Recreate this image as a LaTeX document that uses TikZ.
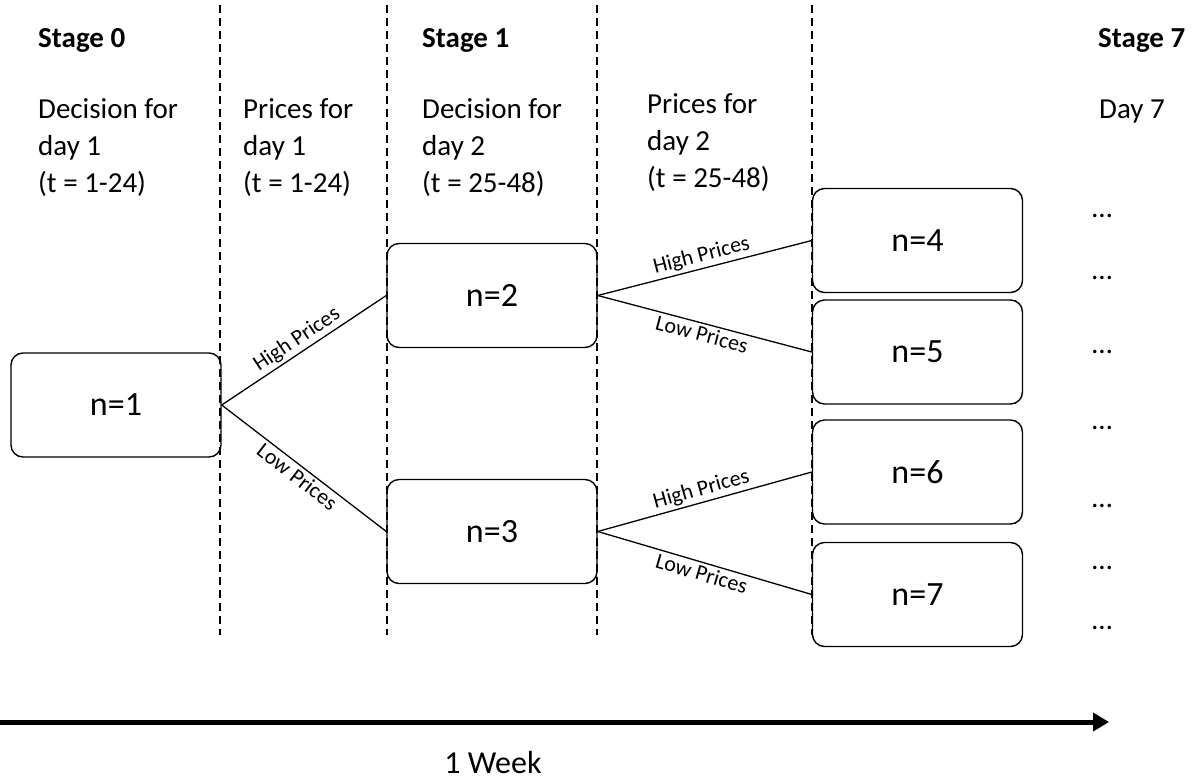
\documentclass[tikz,border=0pt]{standalone}
\usepackage{fontspec}
\setmainfont{Carlito}
\usetikzlibrary{arrows.meta}
\begin{document}
\begin{tikzpicture}[x=1pt,y=-1pt,
  box/.style={draw, line width=1.4pt, rounded corners=12pt, minimum width=210pt, minimum height=104pt, inner sep=0pt, font=\fontsize{34}{40}\selectfont},
  txt/.style={anchor=base west, inner sep=0pt, font=\fontsize{29}{35}\selectfont},
  stage/.style={anchor=base west, inner sep=0pt, font=\fontsize{29}{35}\selectfont\bfseries},
  lbl/.style={sloped, font=\fontsize{22}{26}\selectfont, inner sep=2.5pt},
  conn/.style={line width=1.3pt},
  divider/.style={line width=1.2pt, dash pattern=on 8pt off 5pt},
  dots/.style={font=\fontsize{29}{35}\selectfont, inner sep=0pt},
]
\useasboundingbox (0,0) rectangle (1197,780);

% dividers
\foreach \x [count=\i] in {220,387,597,812}{
  \coordinate (dt\i) at (\x,5);
  \coordinate (db\i) at (\x,635);
  \draw[divider] (dt\i) -- (db\i);
}

% column texts
\node[stage] (s0) at (38,47) {Stage 0};
\node[txt] (c1a) at (38,118) {Decision for};
\node[txt] (c1b) at (38,155) {day 1};
\node[txt] (c1c) at (38,192) {(t = 1-24)};

\node[txt] (c2a) at (243,118) {Prices for};
\node[txt] (c2b) at (243,155) {day 1};
\node[txt] (c2c) at (243,192) {(t = 1-24)};

\node[stage] (s1) at (422,47) {Stage 1};
\node[txt] (c3a) at (422,118) {Decision for};
\node[txt] (c3b) at (422,155) {day 2};
\node[txt] (c3c) at (422,192) {(t = 25-48)};

\node[txt] (c4a) at (647,113) {Prices for};
\node[txt] (c4b) at (647,150) {day 2};
\node[txt] (c4c) at (647,187) {(t = 25-48)};

\node[stage] (s7) at (1098,47) {Stage 7};
\node[txt] (c5a) at (1099,118) {Day 7};

% boxes
\node[box] (n1) at (116,405) {n=1};
\node[box] (n2) at (492,295.5) {n=2};
\node[box] (n3) at (492,531.5) {n=3};
\node[box] (n4) at (917.5,240.5) {n=4};
\node[box] (n5) at (917.5,352) {n=5};
\node[box] (n6) at (917.5,472) {n=6};
\node[box] (n7) at (917.5,594.5) {n=7};

% connectors
\draw[conn] (n1.east) -- node[lbl,above] {High Prices} (n2.west);
\draw[conn] (n1.east) -- node[lbl,below] {Low Prices} (n3.west);
\draw[conn] (n2.east) -- node[lbl,above] {High Prices} (n4.west);
\draw[conn] (n2.east) -- node[lbl,below] {Low Prices} (n5.west);
\draw[conn] (n3.east) -- node[lbl,above] {High Prices} (n6.west);
\draw[conn] (n3.east) -- node[lbl,below] {Low Prices} (n7.west);

% dots
\foreach \y [count=\i] in {216,278,352,428,506,568,628}{
  \node[dots] (d\i) at (1102,\y) {…};
}

% time arrow
\coordinate (ta) at (0,722);
\coordinate (tb) at (1109,722);
\draw[line width=5pt, -{Triangle[length=16pt,width=18pt]}] (ta) -- (tb);
\node[font=\fontsize{32}{38}\selectfont, inner sep=0pt, anchor=base] (week) at (493,773) {1 Week};
\end{tikzpicture}
\end{document}
